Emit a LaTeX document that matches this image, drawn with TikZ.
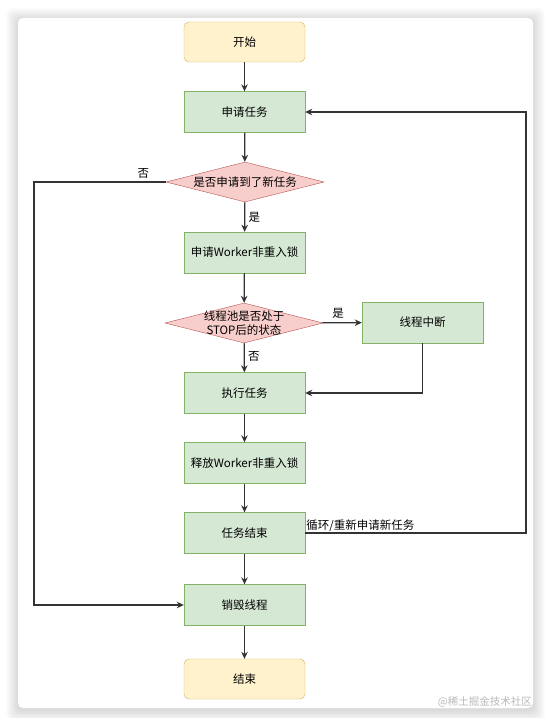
\documentclass[tikz,border=0pt]{standalone}
\usepackage{fontspec}
\newfontfamily\cjk{Noto Sans CJK SC}
\usetikzlibrary{shapes.geometric, arrows.meta}
\definecolor{startfill}{HTML}{FFF2CC}
\definecolor{startline}{HTML}{D6B656}
\definecolor{procfill}{HTML}{D5E8D4}
\definecolor{procline}{HTML}{82B366}
\definecolor{decfill}{HTML}{F8CECC}
\definecolor{decline}{HTML}{B85450}
\definecolor{flowline}{HTML}{333333}
\begin{document}
\begin{tikzpicture}[>={Stealth[length=7pt, width=6.5pt]}, x=1pt, y=-1pt,
    every node/.style={font=\cjk\fontsize{11.5}{14}\selectfont},
    terminal/.style={draw=startline, fill=startfill, rounded corners=5pt, minimum width=121pt, minimum height=40pt},
    process/.style={draw=procline, fill=procfill, minimum width=121pt, minimum height=41pt},
    decision/.style={diamond, draw=decline, fill=decfill, aspect=3.95, minimum width=158pt, minimum height=40pt, inner sep=0pt},
    flow/.style={->, draw=flowline, line width=1.2pt}]
    \useasboundingbox (0,0) rectangle (551,718);
    % 卡片与阴影
    \foreach \s in {1,...,12}
        \fill[black, opacity=0.013, rounded corners=6pt] (18-\s,20-\s) rectangle (533+\s,710+\s);
    \fill[white, rounded corners=5pt] (18,18) rectangle (533,708);

    % 流程节点
    \node[terminal] (start) at (244.5,42) {开始};
    \node[process] (apply) at (244.5,112) {申请任务};
    \node[decision] (d1) at (245,182) {是否申请到了新任务};
    \node[process] (lock) at (244.5,252.5) {申请Worker非重入锁};
    \node[decision, label={[align=center]center:线程池是否处于\\STOP后的状态}] (d2) at (244,323) {};
    \node[process] (intr) at (422.5,322.5) {线程中断};
    \node[process] (exec) at (244.5,393) {执行任务};
    \node[process] (unlock) at (244.5,463) {释放Worker非重入锁};
    \node[process] (done) at (244.5,533) {任务结束};
    \node[process] (kill) at (244.5,605) {销毁线程};
    \node[terminal] (end) at (244.5,679) {结束};

    % 拐点
    \coordinate (loop) at (526,112);
    \coordinate (left) at (34,182);

    % 箭头
    \draw[flow] (start) -- (apply);
    \draw[flow] (apply) -- (d1);
    \draw[flow] (d1) -- node[right, pos=0.5] {是} (lock);
    \draw[flow] (lock) -- (d2);
    \draw[flow] (d2) -- node[above, pos=0.4] {是} (intr);
    \draw[flow] (d2) -- node[right, pos=0.47] {否} (exec);
    \draw[flow] (intr.south) |- (exec.east);
    \draw[flow] (exec) -- (unlock);
    \draw[flow] (unlock) -- (done);
    \draw[flow] (done) -- (kill);
    \draw[flow] (kill) -- (end);
    \draw[flow] (done.east) -| (loop) -- (apply.east);
    \draw[flow] (d1.west) -- node[above, pos=0.17] {否} (left) |- (kill.west);

    % 标注
    \node[above right, inner sep=1pt] (looptext) at (done.east) {循环/重新申请新任务};
    \node[anchor=south east, text=gray!55, inner sep=1pt, font=\cjk\fontsize{10.5}{12}\selectfont] (mark) at (533,709) {@稀土掘金技术社区};
\end{tikzpicture}
\end{document}
